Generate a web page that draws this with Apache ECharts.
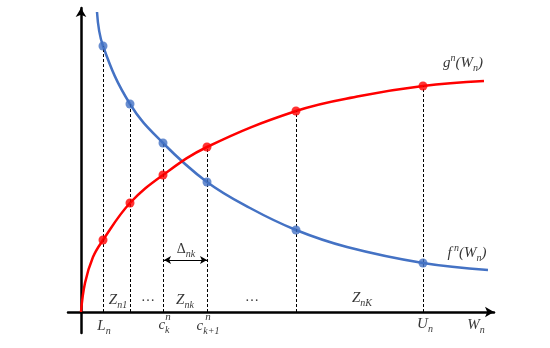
<!DOCTYPE html>
<html><head><meta charset="utf-8">
<script src="https://cdn.jsdelivr.net/npm/echarts@6/dist/echarts.min.js"></script>
<style>html,body{margin:0;padding:0;background:#fff}#c{width:550px;height:348px}</style>
</head><body><div id="c"></div>
<script>
// curve samples
const fCurve = [[16,300],[22,266],[49,208],[82,169],[126,130],[169,104],[215,82],[266,65],[342,49],[407,42]];
const gCurve = [[0,0],[4,29],[12,55],[22,72],[49,109],[82,137],[126,165],[215,201],[279,216],[342,226],[403,231]];
// breakpoints
const breakX = [22, 49, 82, 126, 215, 342];
const fVals = [266, 208, 169, 130, 82, 49];
const gVals = [72, 109, 137, 165, 201, 226];
// labels
const labelTexts = [
  '{i|g}{sup|n}{i|(W}{sub|n}{i|)}',
  '{i|f}{sup| n}{i|(W}{sub|n}{i|)}',
  '{i|L}{sub|n}',
  '{i|c}{sub|k}',
  '{s|n}',
  '{i|c}{sub|k+1}',
  '{s|n}',
  '{i|U}{sub|n}',
  '{i|W}{sub|n}',
  '{i|Z}{sub|n1}',
  '{r|…}',
  '{i|Z}{sub|nk}',
  '{r|…}',
  '{i|Z}{sub|nK}',
  '{r|Δ}{sub|nk}'
];
const labelPos = [[382,249],[386,59],[23,-14],[83,-13],[87,-5],[127,-14],[127,-5],[344,-12],[395,-13],[37,12],[67,15],[104,12],[171,15],[281,14],[105,63]];
const deltaSpan = [83, 126, 52];

const blue = '#4472C4', red = '#FF0000';
const serif = '"Liberation Serif", "DejaVu Serif", serif';
const rich = {
  i: {fontFamily: serif, fontStyle: 'italic', fontSize: 15, color: '#000', lineHeight: 20},
  r: {fontFamily: serif, fontSize: 14, color: '#000', lineHeight: 20},
  s: {fontFamily: serif, fontStyle: 'italic', fontSize: 11, color: '#000', lineHeight: 12},
  sup: {fontFamily: serif, fontStyle: 'italic', fontSize: 10, color: '#000', verticalAlign: 'top', lineHeight: 20, padding: [0,0,6,0]},
  sub: {fontFamily: serif, fontStyle: 'italic', fontSize: 10, color: '#000', verticalAlign: 'bottom', lineHeight: 20, padding: [6,0,0,0]}
};

const dashLines = breakX.map((x, i) => [{coord: [x, 0]}, {coord: [x, Math.max(fVals[i], gVals[i])]}]);

const chart = echarts.init(document.getElementById('c'), null, {renderer: 'canvas'});
chart.setOption({
  animation: false,
  grid: {left: 68, right: 56, top: 8, bottom: 15},
  xAxis: {type: 'value', min: -13, max: 413,
    axisLine: {onZero: true, lineStyle: {color: '#000', width: 2.5}, symbol: ['none', 'arrow'], symbolSize: [8, 9]},
    axisTick: {show: false}, axisLabel: {show: false}, splitLine: {show: false}},
  yAxis: {type: 'value', min: -21, max: 304,
    axisLine: {onZero: true, lineStyle: {color: '#000', width: 2.5}, symbol: ['none', 'arrow'], symbolSize: [8, 9]},
    axisTick: {show: false}, axisLabel: {show: false}, splitLine: {show: false}},
  series: [
    {type: 'line', data: fCurve, smooth: 0.4, showSymbol: false, lineStyle: {color: blue, width: 2.5}, z: 3,
      markLine: {silent: true, symbol: 'none', label: {show: false}, lineStyle: {color: '#000', type: [3, 2], width: 1}, data: dashLines}},
    {type: 'line', data: gCurve, smooth: 0.4, showSymbol: false, lineStyle: {color: red, width: 2.5}, z: 3,
      markLine: {silent: true, symbol: ['arrow', 'arrow'], symbolSize: [6, 7], label: {show: false}, lineStyle: {color: '#000', type: 'solid', width: 1},
        data: [[{coord: [deltaSpan[0], deltaSpan[2]]}, {coord: [deltaSpan[1], deltaSpan[2]]}]]}},
    {type: 'scatter', data: breakX.map((x, i) => [x, fVals[i]]), symbolSize: 9, itemStyle: {color: blue}, z: 5},
    {type: 'scatter', data: breakX.map((x, i) => [x, gVals[i]]), symbolSize: 9, itemStyle: {color: red}, z: 5},
    {type: 'scatter', clip: false, symbolSize: 0, silent: true, z: 6,
      data: labelPos.map((p, i) => ({value: p, label: {formatter: labelTexts[i]}})),
      label: {show: true, position: 'inside', rich: rich}}
  ]
});
</script></body></html>
